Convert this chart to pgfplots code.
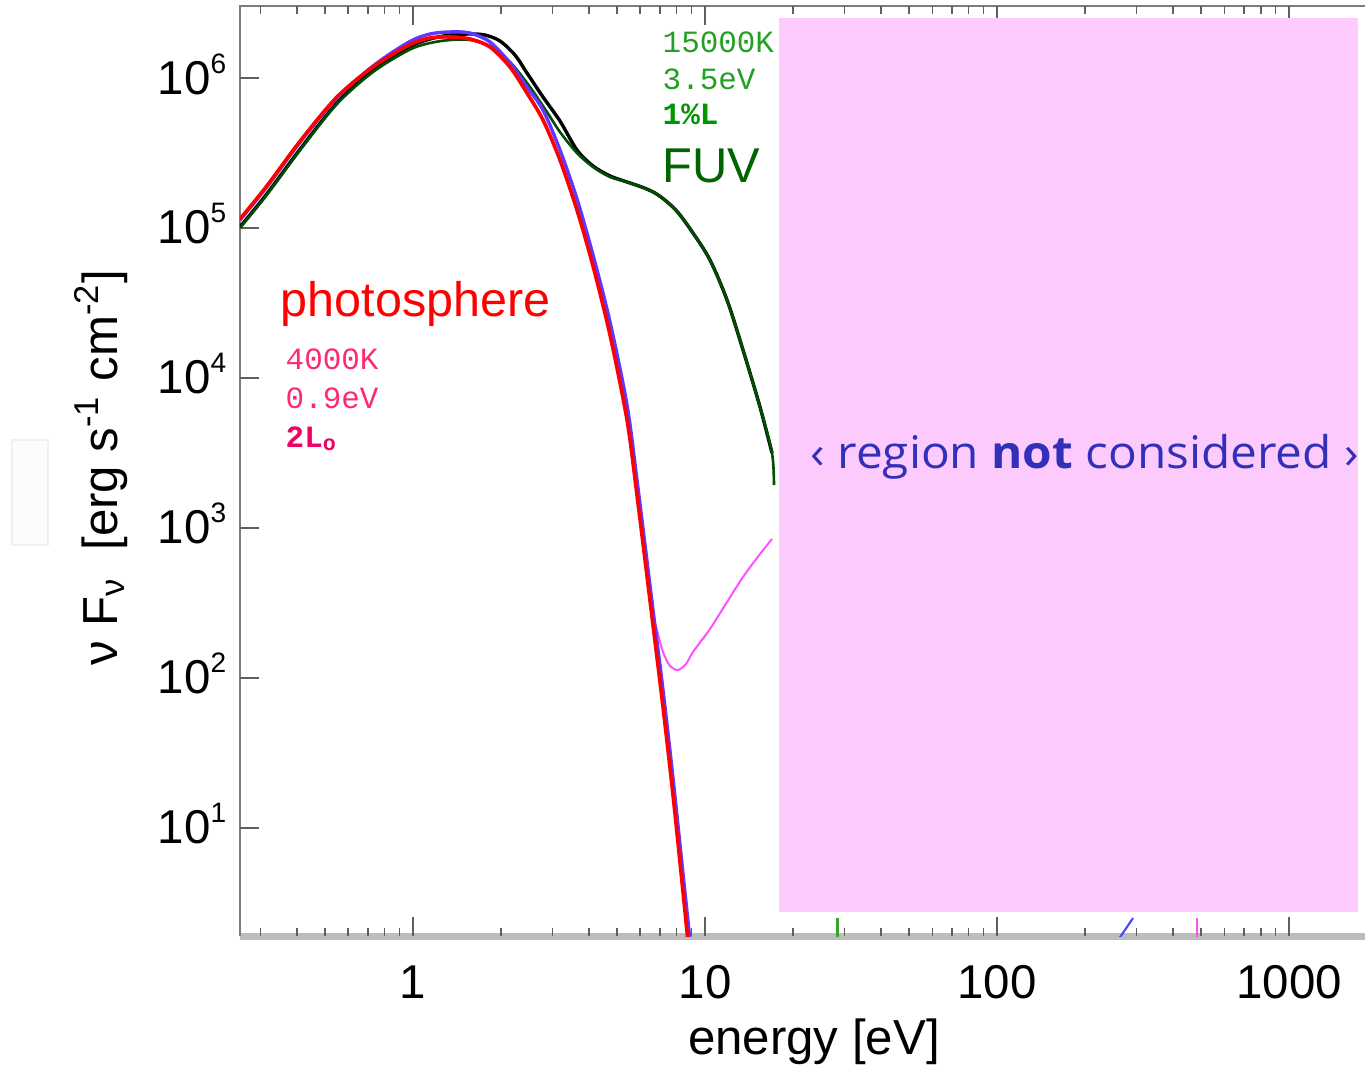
\documentclass[border=0pt]{standalone}
\usepackage{pgfplots}
\pgfplotsset{compat=1.18}
\usepackage{fontspec}
\setmainfont{Liberation Sans}
\newfontfamily\monofont{Liberation Mono}
\newfontfamily\handfont{Open Sans}

\definecolor{axisgray}{RGB}{125,125,125}
\definecolor{bandgray}{RGB}{188,188,188}
\definecolor{tickgray}{RGB}{95,95,95}
\definecolor{pinkbg}{RGB}{252,202,252}
\definecolor{regionblue}{RGB}{50,48,185}
\definecolor{fuvline}{RGB}{0,78,0}
\definecolor{fuvtext}{RGB}{0,100,0}
\definecolor{greentext}{RGB}{35,160,35}
\definecolor{greenbold}{RGB}{0,150,0}
\definecolor{pinktext}{RGB}{255,40,115}
\definecolor{pinkbold}{RGB}{240,0,100}
\definecolor{magline}{RGB}{255,80,255}
\definecolor{blueline}{RGB}{95,55,255}

\tikzset{px/.style={x=0.1mm,y=-0.1mm,shift={(-240,-936)}}}
\newcommand{\dec}[1]{10\raisebox{2.1mm}{\fontsize{8}{8}\selectfont #1}}

\begin{document}
\begin{tikzpicture}
\begin{scope}[px]
  \useasboundingbox (0,0) rectangle (1365,1065);
  \draw[gray!12, fill=gray!2] (12,440) rectangle (48,545);
  \draw[bandgray, line width=0.7mm] (240,936.5) -- (1365,936.5);
  \draw[axisgray, line width=0.23mm] (240,936) -- (240,6) -- (1365,6);
\end{scope}

\begin{axis}[
    at={(0,0)}, anchor=south west,
    scale only axis,
    width=112.5mm, height=93mm,
    xmode=log, ymode=log,
    xmin=0.2556, xmax=1820,
    ymin=1.905, ymax=3.02e6,
    axis line style={draw=none},
    ytick pos=left,
    tick align=inside,
    major tick length=1.9mm,
    minor tick length=0.8mm,
    every tick/.style={draw=tickgray, line width=0.15mm},
    log ticks with fixed point,
    /pgf/number format/1000 sep={},
    /pgf/number format/assume math mode=true,
    xticklabel style={anchor=base, inner sep=0pt, yshift=-6.2mm,
        font=\fontsize{13.5}{16}\selectfont},
    ytick={10,100,1000,10000,100000,1000000},
    yticklabels={\dec{1},\dec{2},\dec{3},\dec{4},\dec{5},\dec{6}},
    yminorticks=false,
    yticklabel style={anchor=base east, inner sep=0pt, xshift=-1.3mm, yshift=-1.6mm,
        font=\fontsize{13.5}{16}\selectfont},
    xlabel={energy [eV]},
    xlabel style={at={(axis description cs:0.5102,-0.114)}, anchor=center,
        font=\fontsize{14}{16}\selectfont},
    ylabel={ν F\textsubscript{ν}\ \ [erg s\textsuperscript{-1} cm\textsuperscript{-2}]},
    ylabel style={at={(axis description cs:-0.1236,0.5038)}, anchor=center,
        font=\fontsize{14}{16}\selectfont},
    no markers,
    every axis plot/.append style={smooth, tension=0.5},
]

% black: full model
\addplot[black, line width=0.34mm] coordinates {
 (0.2556,1.016e5) (0.3138,1.660e5) (0.4135,3.415e5) (0.5491,6.813e5)
 (0.7295,1.131e6) (0.9689,1.609e6) (1.1435,1.820e6) (1.3388,1.935e6)
 (1.5675,1.965e6) (1.764,1.935e6) (1.986,1.765e6) (2.235,1.423e6)
 (2.4568,1.080e6) (2.7874,7.470e5) (3.1865,5.168e5) (3.6439,3.311e5)
 (4.1350,2.590e5) (4.7283,2.222e5) (5.4060,2.026e5) (6.134,1.862e5)
 (6.742,1.711e5) (7.353,1.514e5) (8.082,1.269e5) (9.096,9.261e4)
 (10.40,6.119e4) (11.895,3.311e4) (13.495,1.537e4) (15.43,6407) (16.96,3162)
};

% green: photosphere + FUV
\addplot[fuvline, line width=0.26mm] coordinates {
 (0.2556,1.0e5) (0.3138,1.634e5) (0.4135,3.363e5) (0.5491,6.710e5)
 (0.7295,1.096e6) (0.9689,1.537e6) (1.1435,1.711e6) (1.3388,1.792e6)
 (1.5675,1.792e6) (1.8352,1.634e6) (2.1487,1.279e6) (2.5155,8.710e5)
 (2.8766,5.933e5) (3.1865,4.365e5) (3.6439,3.162e5) (4.1350,2.551e5)
 (4.7283,2.188e5) (5.4060,2.026e5) (6.134,1.862e5) (6.742,1.711e5)
 (7.353,1.514e5) (8.082,1.269e5) (9.096,9.261e4) (10.40,6.119e4)
 (11.895,3.311e4) (13.495,1.537e4) (15.43,6407) (16.96,3162) (17.23,1935)
};

% magenta
\addplot[magline, line width=0.2mm] coordinates {
 (5.4060,5248) (5.8484,1660) (6.480,331.1) (6.848,208.9) (7.181,149.1)
 (7.588,120.2) (8.082,113.1) (8.608,124.0) (9.096,149.1) (10.40,212.2)
 (11.895,321.1) (13.495,471.3) (15.43,670.9) (16.96,844.7)
};

% blue
\addplot[blueline, line width=0.34mm] coordinates {
 (0.2556,1.131e5) (0.3138,1.848e5) (0.4135,3.802e5) (0.5491,7.356e5)
 (0.7295,1.202e6) (0.9689,1.738e6) (1.1435,1.965e6) (1.3388,2.027e6)
 (1.5675,1.995e6) (1.8352,1.738e6) (2.1487,1.259e6) (2.4568,8.710e5)
 (2.7874,6.119e5) (3.1865,3.311e5) (3.6439,1.561e5) (4.1350,6.607e4)
 (4.7283,2.362e4) (5.4060,6607) (5.8484,2089) (6.6359,284.0)
 (7.1807,83.2) (7.7700,21.5) (8.4080,4.935) (9.028,1.318)
};

% red: photosphere
\addplot[red, line width=0.36mm] coordinates {
 (0.2556,1.148e5) (0.3138,1.877e5) (0.4135,3.861e5) (0.5491,7.470e5)
 (0.7295,1.184e6) (0.9689,1.660e6) (1.1435,1.848e6) (1.3388,1.877e6)
 (1.5675,1.820e6) (1.8352,1.609e6) (2.1487,1.184e6) (2.4568,7.943e5)
 (2.7874,5.248e5) (3.1865,2.841e5) (3.6439,1.318e5) (4.1350,5.580e4)
 (4.7283,1.935e4) (5.4060,5248) (5.8484,1660) (6.6359,225.6)
 (7.1807,64.1) (7.7700,16.6) (8.4080,3.745) (8.8853,1.278)
};

% bits of the high-energy curves below the shaded box
\addplot[green!55!black!80, line width=0.25mm, sharp plot] coordinates {(28.4,1.5) (28.4,2.51)};
\addplot[blue!70, line width=0.22mm, sharp plot] coordinates {(259.7,1.79) (292.3,2.51)};
\addplot[magline, line width=0.25mm, sharp plot] coordinates {(484,1.5) (484,2.51)};

% region not considered
\fill[pinkbg] (axis cs:17.92,2.754) rectangle (axis cs:1723,2.512e6);
\end{axis}

\begin{scope}[px]
  \node[anchor=base west, inner sep=0, text=greentext, font=\monofont\fontsize{8.8}{10}\selectfont] at (662,53) {15000K};
  \node[anchor=base west, inner sep=0, text=greentext, font=\monofont\fontsize{8.8}{10}\selectfont] at (662,90) {3.5eV};
  \node[anchor=base west, inner sep=0, text=greenbold, font=\monofont\bfseries\fontsize{8.8}{10}\selectfont] at (662,125) {1\%L};
  \node[anchor=base west, inner sep=0, text=fuvtext, font=\fontsize{13.9}{16}\selectfont] at (662,183) {FUV};
  \node[anchor=base west, inner sep=0, text=red, font=\fontsize{13.8}{16}\selectfont] at (280,317) {photosphere};
  \node[anchor=base west, inner sep=0, text=pinktext, font=\monofont\fontsize{8.8}{10}\selectfont] at (285,370) {4000K};
  \node[anchor=base west, inner sep=0, text=pinktext, font=\monofont\fontsize{8.8}{10}\selectfont] at (285,408) {0.9eV};
  \node[anchor=base west, inner sep=0, text=pinkbold, font=\monofont\bfseries\fontsize{8.8}{10}\selectfont] at (285,447) {2L\textsubscript{o}};
  \node[anchor=base west, inner sep=0, text=regionblue] at (810,468)
    {\resizebox{54.8mm}{\height}{\handfont\fontsize{12.8}{14}\selectfont ‹ region \textbf{not} considered ›}};
\end{scope}
\end{tikzpicture}
\end{document}
